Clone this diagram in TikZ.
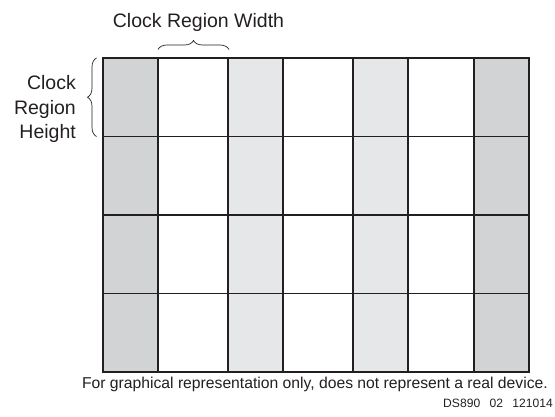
\documentclass[tikz,border=0pt]{standalone}
\usepackage{fontspec}
\setmainfont{Liberation Sans}
\usetikzlibrary{decorations.pathreplacing}
\definecolor{darkcol}{HTML}{D1D3D4}
\definecolor{lightcol}{HTML}{E6E7E8}
\definecolor{ink}{HTML}{231F20}

\begin{document}
\begin{tikzpicture}[x=1pt,y=1pt,
  gridline/.style={line width=1.4pt,color=ink},
  border/.style={line width=2.2pt,color=ink},
  regionbrace/.style={decorate,decoration={brace,amplitude=9pt},line width=0.7pt,color=ink},
  biglabel/.style={font=\fontsize{19.5}{24.5}\selectfont,text=ink,inner sep=0pt},
  smalllabel/.style={font=\fontsize{15.7}{18}\selectfont,text=ink,inner sep=0pt}]
\useasboundingbox (0,0) rectangle (555,416);
% shaded columns
\foreach \xa/\xb/\c in {103/158/darkcol,228/283/lightcol,353/408/lightcol,474/529/darkcol}
  \fill[\c] (\xa,44) rectangle (\xb,358);
% clock region grid
\foreach \xx in {158,228,283,353,408,474}
  \draw[gridline] (\xx,44) -- (\xx,358);
\foreach \yy in {122.5,201,279.5}
  \draw[gridline] (103,\yy) -- (529,\yy);
\draw[border] (103,44) rectangle (529,358);
% braces
\coordinate (wa) at (158,366.5);
\coordinate (wb) at (229,366.5);
\coordinate (ha) at (96.5,279.5);
\coordinate (hb) at (96.5,358);
\draw[regionbrace] (wa) -- (wb);
\draw[regionbrace] (ha) -- (hb);
% labels
\node[biglabel,anchor=base] (width) at (198.5,388) {Clock Region Width};
\node[biglabel,anchor=east,align=right] (height) at (76,307) {Clock\\Region\\Height};
\node[smalllabel,anchor=base east] (note) at (548,28) {For graphical representation only, does not represent a real device.};
\node[font=\fontsize{12.1}{14}\selectfont,text=ink,inner sep=0pt,anchor=base east] (figid) at (553,9) {DS890\hspace{6pt} 02\hspace{6pt} 121014};
\end{tikzpicture}
\end{document}
